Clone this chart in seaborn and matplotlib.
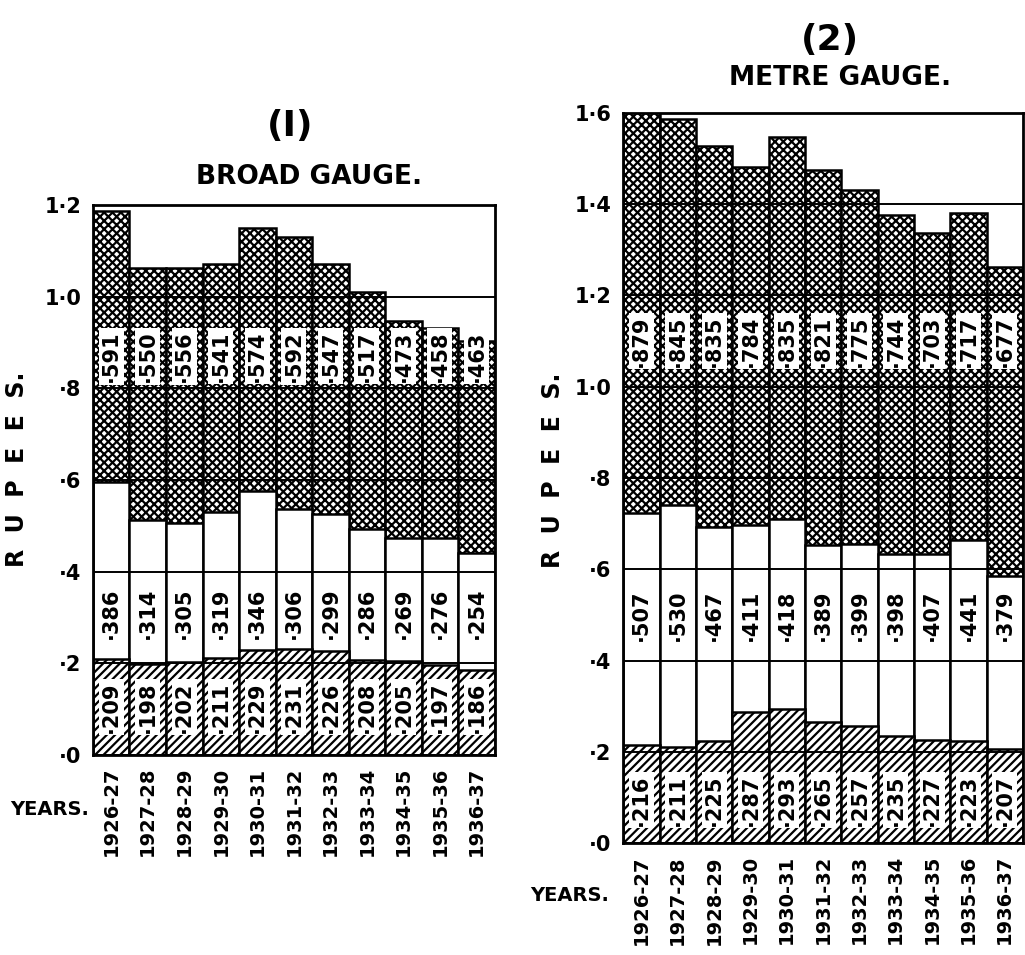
import numpy as np
import pandas as pd
import matplotlib
matplotlib.use("Agg")
import matplotlib.pyplot as plt
import seaborn as sns

years = ["1926-27", "1927-28", "1928-29", "1929-30", "1930-31", "1931-32",
         "1932-33", "1933-34", "1934-35", "1935-36", "1936-37"]

# broad gauge
bg_low = [.209, .198, .202, .211, .229, .231, .226, .208, .205, .197, .186]
bg_mid = [.386, .314, .305, .319, .346, .306, .299, .286, .269, .276, .254]
bg_top = [.591, .550, .556, .541, .574, .592, .547, .517, .473, .458, .463]

# metre gauge
mg_low = [.216, .211, .225, .287, .293, .265, .257, .235, .227, .223, .207]
mg_mid = [.507, .530, .467, .411, .418, .389, .399, .398, .407, .441, .379]
mg_top = [.879, .845, .835, .784, .835, .821, .775, .744, .703, .717, .677]

sns.set_style("white")
plt.rcParams['font.family'] = ['DejaVu Sans']
plt.rcParams['font.weight'] = 'bold'
plt.rcParams['hatch.linewidth'] = 1.6
for k in ['text.color', 'axes.labelcolor', 'xtick.color', 'ytick.color']:
    plt.rcParams[k] = 'black'


def fmt(v):
    return "·" + f"{v:.3f}"[2:]


def tick_fmt(v):
    s = f"{v:.1f}"
    return s.replace("0.", "·") if v < 1 else s.replace(".", "·")


def draw(ax, low, mid, top, ymax, label_y, ylab_pos):
    df = pd.DataFrame({"year": years, "low": low, "mid": mid, "top": top})
    df["total"] = df["low"] + df["mid"] + df["top"]
    df["lowmid"] = df["low"] + df["mid"]
    sns.barplot(data=df, x="year", y="total", ax=ax, color="white", width=1.0,
                edgecolor="black", linewidth=1.8, hatch="xxxx", zorder=1)
    sns.barplot(data=df, x="year", y="lowmid", ax=ax, color="white", width=1.0,
                edgecolor="black", linewidth=1.8, zorder=1)
    sns.barplot(data=df, x="year", y="low", ax=ax, color="white", width=1.0,
                edgecolor="black", linewidth=1.8, hatch="////", zorder=1)
    ticks = np.arange(0, ymax + 0.01, 0.2)
    for t in ticks:
        ax.axhline(t, color="black", lw=1.4, zorder=3)
    ax.set_ylim(0, ymax)
    ax.set_xlim(-0.5, len(years) - 0.5)
    ax.set_yticks(ticks)
    ax.set_yticklabels([tick_fmt(t) for t in ticks], fontsize=15, fontweight="bold")
    ax.set_xticks(range(len(years)))
    ax.set_xticklabels(years, rotation=90, fontsize=14, fontweight="bold")
    ax.tick_params(axis="both", length=5, width=1.5, direction="out", colors="black")
    ax.set_xlabel("")
    ax.set_ylabel("R  U  P  E  E  S.", fontsize=17, fontweight="bold")
    ax.yaxis.set_label_coords(*ylab_pos)
    for s in ax.spines.values():
        s.set_color("black")
        s.set_linewidth(2)
    for i in range(len(years)):
        for vals, yy in zip((low, mid, top), label_y):
            ax.text(i, yy, fmt(vals[i]), rotation=90, ha="center", va="center",
                    fontsize=15, fontweight="bold", zorder=5,
                    bbox=dict(boxstyle="square,pad=0.12", fc="white", ec="none"))


fig = plt.figure(figsize=(10.25, 9.55), dpi=100)
ax1 = fig.add_axes([0.0907, 0.2094, 0.392, 0.576])
ax2 = fig.add_axes([0.608, 0.117, 0.390, 0.765])

draw(ax1, bg_low, bg_mid, bg_top, 1.2, (0.105, 0.31, 0.87), (-0.16, 0.52))
draw(ax2, mg_low, mg_mid, mg_top, 1.6, (0.095, 0.50, 1.10), (-0.145, 0.51))

fig.text(0.283, 0.868, "(I)", ha="center", va="center", fontsize=26, fontweight="bold")
fig.text(0.302, 0.815, "BROAD GAUGE.", ha="center", va="center", fontsize=19, fontweight="bold")
fig.text(0.81, 0.958, "(2)", ha="center", va="center", fontsize=26, fontweight="bold")
fig.text(0.82, 0.918, "METRE GAUGE.", ha="center", va="center", fontsize=19, fontweight="bold")
fig.text(0.048, 0.152, "YEARS.", ha="center", va="center", fontsize=14, fontweight="bold")
fig.text(0.556, 0.062, "YEARS.", ha="center", va="center", fontsize=14, fontweight="bold")

fig.savefig("out.png", dpi=100, facecolor="white")
